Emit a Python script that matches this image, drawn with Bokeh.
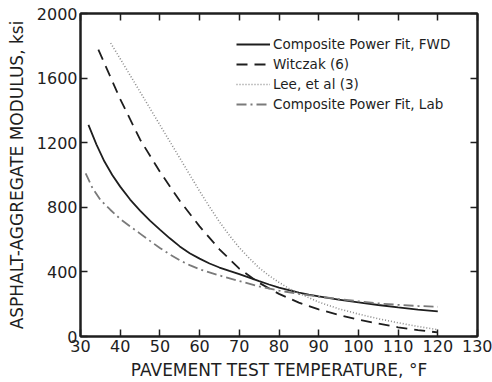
from bokeh.plotting import figure
from bokeh.models import Range1d, LinearAxis, FixedTicker, Legend, LegendItem
from bokeh.embed import file_html
from bokeh.resources import INLINE

# ---- data ----
x_ticks = [30, 40, 50, 60, 70, 80, 90, 100, 110, 120, 130]
y_ticks = [0, 400, 800, 1200, 1600, 2000]

fwd_temp = [32, 34, 36, 38, 40, 42.5, 45, 47.5, 50, 52.5, 55, 57.5, 60, 62.5, 65, 67.5, 70,
            72.5, 75, 77.5, 80, 82.5, 85, 87.5, 90, 95, 100, 105, 110, 115, 120]
fwd_mod = [1310, 1190, 1085, 1000, 928, 848, 780, 718, 662, 608, 558, 516, 482, 452, 427, 406, 386,
           365, 343, 322, 303, 287, 272, 259, 248, 228, 211, 195, 180, 167, 155]

witczak_temp = [34.5, 40, 45, 50, 55, 60, 65, 70, 75, 80, 85, 90, 95, 100, 105, 110, 115, 120]
witczak_mod = [1776, 1470, 1220, 1020, 840, 682, 540, 420, 332, 264, 210, 168, 134, 104, 80, 57, 40, 25]

lee_temp = [37.6, 40, 45, 50, 55, 60, 62.5, 65, 67.5, 70, 72.5, 75, 77.5, 80, 82.5, 85, 90, 95,
            100, 105, 110, 115, 120]
lee_mod = [1817, 1720, 1515, 1310, 1105, 900, 803, 710, 626, 550, 485, 425, 377, 335, 298, 268, 213, 172,
           139, 110, 85, 62, 42]

lab_temp = [31.3, 33, 35, 37.5, 40, 42.5, 45, 47.5, 50, 52.5, 55, 57.5, 60, 65, 70, 75, 80, 85, 90,
            95, 100, 105, 110, 115, 120]
lab_mod = [1010, 920, 846, 785, 728, 682, 637, 592, 548, 508, 472, 442, 416, 378, 343, 310, 284, 264, 247,
           232, 218, 205, 196, 189, 184]

labels = ["Composite Power Fit, FWD", "Witczak (6)", "Lee, et al (3)", "Composite Power Fit, Lab"]

FONT = "DejaVu Sans"
INK = "#1e1e1e"

p = figure(width=492, height=382, output_backend="svg", toolbar_location=None,
           x_range=Range1d(30, 130), y_range=Range1d(0, 2000),
           min_border_left=80, min_border_right=15, min_border_top=13, min_border_bottom=45)
p.background_fill_color = "white"
p.border_fill_color = "white"
p.grid.visible = False
p.outline_line_color = INK
p.outline_line_width = 2

def style_axis(ax, show_labels):
    ax.axis_line_color = INK
    ax.axis_line_width = 2
    ax.major_tick_in = 7
    ax.major_tick_out = 0
    ax.major_tick_line_color = INK
    ax.major_tick_line_width = 1.5
    ax.minor_tick_line_color = None
    ax.major_label_text_font = FONT
    ax.axis_label_text_font = FONT
    ax.axis_label_text_color = INK
    ax.axis_label_text_font_style = "normal"
    if show_labels:
        ax.major_label_text_color = INK
        ax.major_label_text_font_size = "16px"
        ax.axis_label_text_font_size = "17px"
    else:
        ax.major_label_text_color = None
        ax.major_label_text_font_size = "1px"
        ax.major_label_standoff = 0

xa = p.xaxis[0]
xa.ticker = FixedTicker(ticks=x_ticks)
style_axis(xa, True)
xa.axis_label = "PAVEMENT TEST TEMPERATURE, °F"
xa.major_label_standoff = 3
xa.axis_label_standoff = 5

ya = p.yaxis[0]
ya.ticker = FixedTicker(ticks=y_ticks)
style_axis(ya, True)
ya.axis_label = "ASPHALT-AGGREGATE MODULUS, ksi"
ya.major_label_standoff = 3
ya.axis_label_standoff = 7

top = LinearAxis(ticker=FixedTicker(ticks=x_ticks))
style_axis(top, False)
p.add_layout(top, "above")
right = LinearAxis(ticker=FixedTicker(ticks=y_ticks))
style_axis(right, False)
p.add_layout(right, "right")

r1 = p.line(fwd_temp, fwd_mod, line_color=INK, line_width=1.8)
r2 = p.line(witczak_temp, witczak_mod, line_color=INK, line_width=1.8, line_dash="11 7")
r3 = p.line(lee_temp, lee_mod, line_color="#8c8c8c", line_width=1.6, line_dash="1 2")
r4 = p.line(lab_temp, lab_mod, line_color="#7a7a7a", line_width=1.8, line_dash="10 4 2 4")

legend = Legend(items=[LegendItem(label=labels[0], renderers=[r1]),
                       LegendItem(label=labels[1], renderers=[r2]),
                       LegendItem(label=labels[2], renderers=[r3]),
                       LegendItem(label=labels[3], renderers=[r4])],
                location=(156, 222))
legend.background_fill_alpha = 0
legend.border_line_color = None
legend.padding = 0
legend.margin = 0
legend.spacing = 0
legend.glyph_width = 34
legend.glyph_height = 20
legend.label_height = 20
legend.label_standoff = 3
legend.label_text_font = FONT
legend.label_text_font_size = "13.5px"
legend.label_text_color = INK
p.add_layout(legend, "center")

open("out.html", "w").write(file_html(p, INLINE))
